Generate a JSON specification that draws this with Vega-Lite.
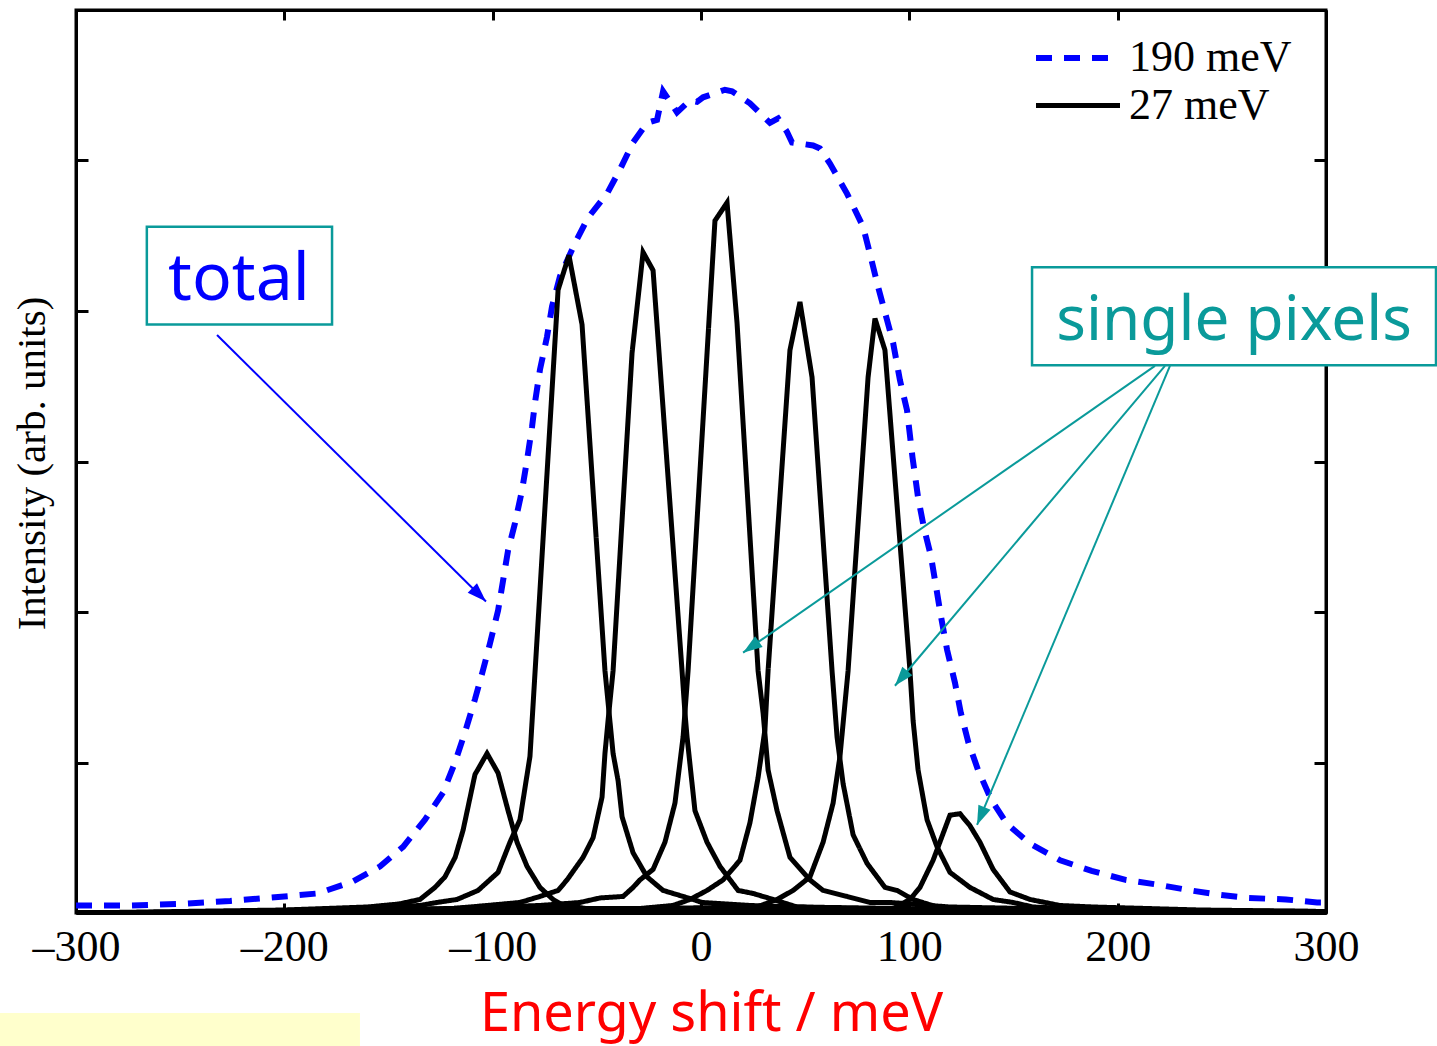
{
  "$schema": "https://vega.github.io/schema/vega-lite/v6.json",
  "width": 1250,
  "height": 903,
  "autosize": {"type": "none"},
  "padding": {"left": 76, "top": 10, "right": 111, "bottom": 133},
  "background": "white",
  "config": {"view": {"stroke": "black", "strokeWidth": 3}},
  "datasets": {
    "curves": [
      {"c":"T","res":"190 meV","e":-300,"v":0.05},{"c":"T","res":"190 meV","e":-274,"v":0.05},{"c":"T","res":"190 meV","e":-250,"v":0.06},{"c":"T","res":"190 meV","e":-226,"v":0.08},{"c":"T","res":"190 meV","e":-200,"v":0.11},{"c":"T","res":"190 meV","e":-184,"v":0.13},{"c":"T","res":"190 meV","e":-167,"v":0.21},{"c":"T","res":"190 meV","e":-154,"v":0.31},{"c":"T","res":"190 meV","e":-143,"v":0.44},{"c":"T","res":"190 meV","e":-132.5,"v":0.62},{"c":"T","res":"190 meV","e":-123.8,"v":0.8},{"c":"T","res":"190 meV","e":-118.1,"v":1.0},{"c":"T","res":"190 meV","e":-113.3,"v":1.2},{"c":"T","res":"190 meV","e":-108.5,"v":1.42},{"c":"T","res":"190 meV","e":-105.1,"v":1.59},{"c":"T","res":"190 meV","e":-101.3,"v":1.79},{"c":"T","res":"190 meV","e":-97.4,"v":2.01},{"c":"T","res":"190 meV","e":-95,"v":2.21},{"c":"T","res":"190 meV","e":-92.6,"v":2.41},{"c":"T","res":"190 meV","e":-89.3,"v":2.59},{"c":"T","res":"190 meV","e":-85.9,"v":2.81},{"c":"T","res":"190 meV","e":-83.5,"v":3.01},{"c":"T","res":"190 meV","e":-81.1,"v":3.23},{"c":"T","res":"190 meV","e":-79.7,"v":3.39},{"c":"T","res":"190 meV","e":-77.3,"v":3.61},{"c":"T","res":"190 meV","e":-73.9,"v":3.83},{"c":"T","res":"190 meV","e":-71.5,"v":4.03},{"c":"T","res":"190 meV","e":-67.7,"v":4.23},{"c":"T","res":"190 meV","e":-60.5,"v":4.45},{"c":"T","res":"190 meV","e":-54.2,"v":4.62},{"c":"T","res":"190 meV","e":-45.1,"v":4.78},{"c":"T","res":"190 meV","e":-38.9,"v":4.94},{"c":"T","res":"190 meV","e":-32.6,"v":5.12},{"c":"T","res":"190 meV","e":-25.9,"v":5.25},{"c":"T","res":"190 meV","e":-21.1,"v":5.27},{"c":"T","res":"190 meV","e":-18.2,"v":5.46},{"c":"T","res":"190 meV","e":-11.5,"v":5.32},{"c":"T","res":"190 meV","e":-5.3,"v":5.4},{"c":"T","res":"190 meV","e":-1.9,"v":5.39},{"c":"T","res":"190 meV","e":1,"v":5.42},{"c":"T","res":"190 meV","e":11.5,"v":5.47},{"c":"T","res":"190 meV","e":14.9,"v":5.46},{"c":"T","res":"190 meV","e":23.5,"v":5.38},{"c":"T","res":"190 meV","e":33.1,"v":5.25},{"c":"T","res":"190 meV","e":37,"v":5.28},{"c":"T","res":"190 meV","e":41.3,"v":5.19},{"c":"T","res":"190 meV","e":43.7,"v":5.12},{"c":"T","res":"190 meV","e":53.8,"v":5.1},{"c":"T","res":"190 meV","e":57.1,"v":5.08},{"c":"T","res":"190 meV","e":61.9,"v":4.98},{"c":"T","res":"190 meV","e":70.1,"v":4.78},{"c":"T","res":"190 meV","e":77.8,"v":4.56},{"c":"T","res":"190 meV","e":81.1,"v":4.38},{"c":"T","res":"190 meV","e":85,"v":4.16},{"c":"T","res":"190 meV","e":89.3,"v":3.94},{"c":"T","res":"190 meV","e":92.2,"v":3.79},{"c":"T","res":"190 meV","e":95.5,"v":3.54},{"c":"T","res":"190 meV","e":98.9,"v":3.34},{"c":"T","res":"190 meV","e":101.5,"v":3.03},{"c":"T","res":"190 meV","e":104.2,"v":2.76},{"c":"T","res":"190 meV","e":107,"v":2.56},{"c":"T","res":"190 meV","e":110.4,"v":2.37},{"c":"T","res":"190 meV","e":112.8,"v":2.17},{"c":"T","res":"190 meV","e":115.2,"v":1.97},{"c":"T","res":"190 meV","e":118.1,"v":1.75},{"c":"T","res":"190 meV","e":121.9,"v":1.53},{"c":"T","res":"190 meV","e":124.7,"v":1.33},{"c":"T","res":"190 meV","e":128.4,"v":1.13},{"c":"T","res":"190 meV","e":133,"v":0.95},{"c":"T","res":"190 meV","e":139.4,"v":0.75},{"c":"T","res":"190 meV","e":147,"v":0.59},{"c":"T","res":"190 meV","e":158,"v":0.46},{"c":"T","res":"190 meV","e":172.4,"v":0.35},{"c":"T","res":"190 meV","e":187.5,"v":0.28},{"c":"T","res":"190 meV","e":203.8,"v":0.22},{"c":"T","res":"190 meV","e":218.4,"v":0.19},{"c":"T","res":"190 meV","e":235,"v":0.15},{"c":"T","res":"190 meV","e":249.6,"v":0.12},{"c":"T","res":"190 meV","e":262.6,"v":0.1},{"c":"T","res":"190 meV","e":280.8,"v":0.09},{"c":"T","res":"190 meV","e":295.7,"v":0.07},{"c":"T","res":"190 meV","e":300,"v":0.07},

      {"c":"A","res":"27 meV","e":-300,"v":0},{"c":"A","res":"27 meV","e":-250,"v":0.01},{"c":"A","res":"27 meV","e":-200,"v":0.02},{"c":"A","res":"27 meV","e":-160,"v":0.04},{"c":"A","res":"27 meV","e":-145,"v":0.06},{"c":"A","res":"27 meV","e":-134.9,"v":0.09},{"c":"A","res":"27 meV","e":-127.7,"v":0.17},{"c":"A","res":"27 meV","e":-122.9,"v":0.24},{"c":"A","res":"27 meV","e":-118,"v":0.37},{"c":"A","res":"27 meV","e":-114.2,"v":0.55},{"c":"A","res":"27 meV","e":-108.5,"v":0.92},{"c":"A","res":"27 meV","e":-102.7,"v":1.06},{"c":"A","res":"27 meV","e":-97.4,"v":0.93},{"c":"A","res":"27 meV","e":-92.6,"v":0.68},{"c":"A","res":"27 meV","e":-88.3,"v":0.47},{"c":"A","res":"27 meV","e":-83.5,"v":0.31},{"c":"A","res":"27 meV","e":-77.3,"v":0.17},{"c":"A","res":"27 meV","e":-71,"v":0.09},{"c":"A","res":"27 meV","e":-66,"v":0.05},{"c":"A","res":"27 meV","e":-55,"v":0.03},{"c":"A","res":"27 meV","e":-30,"v":0.02},{"c":"A","res":"27 meV","e":0,"v":0.01},{"c":"A","res":"27 meV","e":100,"v":0.005},{"c":"A","res":"27 meV","e":300,"v":0},

      {"c":"B","res":"27 meV","e":-300,"v":0},{"c":"B","res":"27 meV","e":-216.5,"v":0.01},{"c":"B","res":"27 meV","e":-168.5,"v":0.03},{"c":"B","res":"27 meV","e":-134.9,"v":0.05},{"c":"B","res":"27 meV","e":-126.7,"v":0.07},{"c":"B","res":"27 meV","e":-117.1,"v":0.09},{"c":"B","res":"27 meV","e":-107,"v":0.15},{"c":"B","res":"27 meV","e":-97.4,"v":0.27},{"c":"B","res":"27 meV","e":-91.7,"v":0.47},{"c":"B","res":"27 meV","e":-86.9,"v":0.62},{"c":"B","res":"27 meV","e":-82.1,"v":1.04},{"c":"B","res":"27 meV","e":-68.6,"v":4.14},{"c":"B","res":"27 meV","e":-63.4,"v":4.37},{"c":"B","res":"27 meV","e":-57.1,"v":3.91},{"c":"B","res":"27 meV","e":-46.1,"v":1.61},{"c":"B","res":"27 meV","e":-42.2,"v":1.06},{"c":"B","res":"27 meV","e":-39.8,"v":0.88},{"c":"B","res":"27 meV","e":-37.9,"v":0.64},{"c":"B","res":"27 meV","e":-32.6,"v":0.4},{"c":"B","res":"27 meV","e":-25.9,"v":0.24},{"c":"B","res":"27 meV","e":-18.2,"v":0.15},{"c":"B","res":"27 meV","e":-3.8,"v":0.09},{"c":"B","res":"27 meV","e":0.5,"v":0.07},{"c":"B","res":"27 meV","e":23.5,"v":0.05},{"c":"B","res":"27 meV","e":71.5,"v":0.03},{"c":"B","res":"27 meV","e":143.5,"v":0.01},{"c":"B","res":"27 meV","e":300,"v":0.005},

      {"c":"C","res":"27 meV","e":-300,"v":0},{"c":"C","res":"27 meV","e":-216.5,"v":0.005},{"c":"C","res":"27 meV","e":-144.5,"v":0.02},{"c":"C","res":"27 meV","e":-119,"v":0.03},{"c":"C","res":"27 meV","e":-102.7,"v":0.05},{"c":"C","res":"27 meV","e":-86.9,"v":0.07},{"c":"C","res":"27 meV","e":-77.3,"v":0.11},{"c":"C","res":"27 meV","e":-68.6,"v":0.15},{"c":"C","res":"27 meV","e":-64.3,"v":0.22},{"c":"C","res":"27 meV","e":-56.6,"v":0.37},{"c":"C","res":"27 meV","e":-51.8,"v":0.5},{"c":"C","res":"27 meV","e":-47.5,"v":0.77},{"c":"C","res":"27 meV","e":-46.1,"v":1.06},{"c":"C","res":"27 meV","e":-44.6,"v":1.28},{"c":"C","res":"27 meV","e":-42.2,"v":1.61},{"c":"C","res":"27 meV","e":-33.1,"v":3.72},{"c":"C","res":"27 meV","e":-27.8,"v":4.39},{"c":"C","res":"27 meV","e":-23,"v":4.27},{"c":"C","res":"27 meV","e":-9.1,"v":1.61},{"c":"C","res":"27 meV","e":-7.7,"v":1.33},{"c":"C","res":"27 meV","e":-6.7,"v":1.17},{"c":"C","res":"27 meV","e":-2.9,"v":0.68},{"c":"C","res":"27 meV","e":2.9,"v":0.47},{"c":"C","res":"27 meV","e":9.1,"v":0.31},{"c":"C","res":"27 meV","e":17.8,"v":0.15},{"c":"C","res":"27 meV","e":25,"v":0.13},{"c":"C","res":"27 meV","e":34.6,"v":0.09},{"c":"C","res":"27 meV","e":46.1,"v":0.04},{"c":"C","res":"27 meV","e":95.5,"v":0.03},{"c":"C","res":"27 meV","e":191.5,"v":0.01},{"c":"C","res":"27 meV","e":300,"v":0.005},

      {"c":"D","res":"27 meV","e":-300,"v":0},{"c":"D","res":"27 meV","e":-192.5,"v":0.01},{"c":"D","res":"27 meV","e":-120.5,"v":0.03},{"c":"D","res":"27 meV","e":-77.3,"v":0.05},{"c":"D","res":"27 meV","e":-58.1,"v":0.07},{"c":"D","res":"27 meV","e":-48.5,"v":0.1},{"c":"D","res":"27 meV","e":-37.4,"v":0.11},{"c":"D","res":"27 meV","e":-32.6,"v":0.17},{"c":"D","res":"27 meV","e":-29.3,"v":0.22},{"c":"D","res":"27 meV","e":-23,"v":0.29},{"c":"D","res":"27 meV","e":-17.3,"v":0.47},{"c":"D","res":"27 meV","e":-12.5,"v":0.73},{"c":"D","res":"27 meV","e":-8.6,"v":1.17},{"c":"D","res":"27 meV","e":-6.2,"v":1.61},{"c":"D","res":"27 meV","e":6.7,"v":4.6},{"c":"D","res":"27 meV","e":12.5,"v":4.72},{"c":"D","res":"27 meV","e":17.3,"v":3.92},{"c":"D","res":"27 meV","e":27.4,"v":1.61},{"c":"D","res":"27 meV","e":29.8,"v":1.33},{"c":"D","res":"27 meV","e":32.2,"v":0.95},{"c":"D","res":"27 meV","e":36.5,"v":0.68},{"c":"D","res":"27 meV","e":42.7,"v":0.37},{"c":"D","res":"27 meV","e":52.3,"v":0.22},{"c":"D","res":"27 meV","e":58.6,"v":0.15},{"c":"D","res":"27 meV","e":70.1,"v":0.11},{"c":"D","res":"27 meV","e":81.1,"v":0.07},{"c":"D","res":"27 meV","e":90.7,"v":0.07},{"c":"D","res":"27 meV","e":119.5,"v":0.04},{"c":"D","res":"27 meV","e":191.5,"v":0.02},{"c":"D","res":"27 meV","e":300,"v":0.01},

      {"c":"E","res":"27 meV","e":-300,"v":0},{"c":"E","res":"27 meV","e":-144.5,"v":0.01},{"c":"E","res":"27 meV","e":-72.5,"v":0.03},{"c":"E","res":"27 meV","e":-29.3,"v":0.03},{"c":"E","res":"27 meV","e":-13.4,"v":0.05},{"c":"E","res":"27 meV","e":-5.3,"v":0.09},{"c":"E","res":"27 meV","e":2.9,"v":0.15},{"c":"E","res":"27 meV","e":10.6,"v":0.22},{"c":"E","res":"27 meV","e":18.7,"v":0.35},{"c":"E","res":"27 meV","e":23.5,"v":0.6},{"c":"E","res":"27 meV","e":27.4,"v":0.9},{"c":"E","res":"27 meV","e":30.7,"v":1.22},{"c":"E","res":"27 meV","e":32.2,"v":1.61},{"c":"E","res":"27 meV","e":42.7,"v":3.74},{"c":"E","res":"27 meV","e":47.5,"v":4.06},{"c":"E","res":"27 meV","e":53.3,"v":3.56},{"c":"E","res":"27 meV","e":62.9,"v":1.61},{"c":"E","res":"27 meV","e":65.3,"v":1.17},{"c":"E","res":"27 meV","e":68.2,"v":0.86},{"c":"E","res":"27 meV","e":73,"v":0.52},{"c":"E","res":"27 meV","e":79.7,"v":0.33},{"c":"E","res":"27 meV","e":88.3,"v":0.17},{"c":"E","res":"27 meV","e":94.1,"v":0.15},{"c":"E","res":"27 meV","e":101.8,"v":0.09},{"c":"E","res":"27 meV","e":113.3,"v":0.04},{"c":"E","res":"27 meV","e":138.7,"v":0.02},{"c":"E","res":"27 meV","e":215.5,"v":0.01},{"c":"E","res":"27 meV","e":300,"v":0.005},

      {"c":"F","res":"27 meV","e":-300,"v":0},{"c":"F","res":"27 meV","e":-96.5,"v":0.01},{"c":"F","res":"27 meV","e":-24.5,"v":0.03},{"c":"F","res":"27 meV","e":26.9,"v":0.04},{"c":"F","res":"27 meV","e":36.5,"v":0.09},{"c":"F","res":"27 meV","e":44.2,"v":0.15},{"c":"F","res":"27 meV","e":52.3,"v":0.24},{"c":"F","res":"27 meV","e":58.6,"v":0.47},{"c":"F","res":"27 meV","e":63.4,"v":0.73},{"c":"F","res":"27 meV","e":66.7,"v":1.04},{"c":"F","res":"27 meV","e":70.6,"v":1.61},{"c":"F","res":"27 meV","e":80.2,"v":3.56},{"c":"F","res":"27 meV","e":83.5,"v":3.95},{"c":"F","res":"27 meV","e":88.3,"v":3.74},{"c":"F","res":"27 meV","e":100.3,"v":1.61},{"c":"F","res":"27 meV","e":101.8,"v":1.28},{"c":"F","res":"27 meV","e":104.2,"v":0.95},{"c":"F","res":"27 meV","e":108.5,"v":0.62},{"c":"F","res":"27 meV","e":113.3,"v":0.44},{"c":"F","res":"27 meV","e":119.5,"v":0.27},{"c":"F","res":"27 meV","e":129.1,"v":0.17},{"c":"F","res":"27 meV","e":140.2,"v":0.09},{"c":"F","res":"27 meV","e":149.8,"v":0.07},{"c":"F","res":"27 meV","e":159.4,"v":0.04},{"c":"F","res":"27 meV","e":191.5,"v":0.02},{"c":"F","res":"27 meV","e":300,"v":0.005},

      {"c":"G","res":"27 meV","e":-300,"v":0},{"c":"G","res":"27 meV","e":-48.5,"v":0.005},{"c":"G","res":"27 meV","e":47.5,"v":0.02},{"c":"G","res":"27 meV","e":92.2,"v":0.03},{"c":"G","res":"27 meV","e":100.3,"v":0.09},{"c":"G","res":"27 meV","e":105.1,"v":0.17},{"c":"G","res":"27 meV","e":111.4,"v":0.35},{"c":"G","res":"27 meV","e":119.5,"v":0.65},{"c":"G","res":"27 meV","e":124.3,"v":0.66},{"c":"G","res":"27 meV","e":129.1,"v":0.58},{"c":"G","res":"27 meV","e":133.9,"v":0.47},{"c":"G","res":"27 meV","e":140.2,"v":0.29},{"c":"G","res":"27 meV","e":148.3,"v":0.14},{"c":"G","res":"27 meV","e":157.9,"v":0.09},{"c":"G","res":"27 meV","e":172.3,"v":0.05},{"c":"G","res":"27 meV","e":188.2,"v":0.04},{"c":"G","res":"27 meV","e":239.5,"v":0.02},{"c":"G","res":"27 meV","e":300,"v":0.01}
    ],
    "boxes": [
      {"name":"total","e":-266,"e2":-177.1,"v":4.56,"v2":3.91},
      {"name":"single pixels","e":158.9,"e2":352.8,"v":4.29,"v2":3.64}
    ],
    "note": [
      {"e":-336.5,"e2":-163.7,"v":-0.664,"v2":-0.884}
    ],
    "bluearrow": [
      {"e":-232.3,"v":3.84,"e2":-103.2,"v2":2.07,"dir":134.7}
    ],
    "tealarrows": [
      {"e":217.9,"v":3.635,"e2":20.2,"v2":1.73,"dir":235.2},
      {"e":222.7,"v":3.635,"e2":93.1,"v2":1.51,"dir":220.2},
      {"e":225.1,"v":3.635,"e2":132.5,"v2":0.585,"dir":202.8}
    ],
    "label_total": [{"t":"total","e":-221.8,"v":4.07}],
    "label_single": [{"t":"single pixels","e":255.9,"v":3.81}]
  },
  "layer": [
    {
      "data": {"name": "note"},
      "mark": {"type": "rect", "fill": "#FFFFCC", "stroke": null},
      "encoding": {
        "x": {"field": "e", "type": "quantitative", "axis": null},
        "x2": {"field": "e2"},
        "y": {"field": "v", "type": "quantitative", "axis": null},
        "y2": {"field": "v2"}
      }
    },
    {
      "data": {"name": "curves"},
      "mark": {"type": "line", "strokeCap": "butt", "strokeJoin": "miter", "clip": true},
      "encoding": {
        "x": {
          "field": "e", "type": "quantitative",
          "scale": {"domain": [-300, 300], "nice": false, "zero": false},
          "axis": {
            "values": [-300, -200, -100, 0, 100, 200, 300],
            "labelExpr": "datum.value < 0 ? '–' + abs(datum.value) : datum.label",
            "labelFont": "Liberation Serif", "labelFontSize": 44, "labelColor": "black",
            "labelPadding": 22, "labelFlush": false, "labelOverlap": false,
            "tickSize": -10, "tickWidth": 3, "tickColor": "black",
            "domainColor": "black", "domainWidth": 3, "grid": false,
            "title": "Energy shift / meV", "titleFont": "Noto Sans", "titleFontSize": 54,
            "titleColor": "#FF0000", "titleFontWeight": "normal",
            "titleX": 635, "titleY": 117, "titleAlign": "center", "titleBaseline": "alphabetic",
            "encode": {"labels": {"update": {"dx": {"signal": "datum.value < 0 ? -12 : 0"}}}}
          }
        },
        "y": {
          "field": "v", "type": "quantitative",
          "scale": {"domain": [0, 6], "nice": false},
          "axis": {
            "values": [0, 1, 2, 3, 4, 5, 6], "labels": false,
            "tickSize": -12, "tickWidth": 3, "tickColor": "black",
            "domainColor": "black", "domainWidth": 3, "grid": false,
            "title": "Intensity (arb. units)", "titleFont": "Liberation Serif", "titleFontSize": 41,
            "titleColor": "black", "titleFontWeight": "normal",
            "titleX": -32, "titleY": 453, "titleAngle": -90, "titleAlign": "center", "titleBaseline": "alphabetic"
          }
        },
        "color": {
          "field": "res", "type": "nominal",
          "scale": {"domain": ["190 meV", "27 meV"], "range": ["#0000FF", "#000000"]},
          "legend": {"title": null, "orient": "none", "legendX": 978, "legendY": 24, "direction": "vertical",
            "labelFont": "Liberation Serif", "labelFontSize": 44, "labelColor": "black", "labelOffset": 27, "labelLimit": 500,
            "symbolType": "M-2,0L2,0", "symbolSize": 1764, "symbolStrokeWidth": 5.5, "rowPadding": 2, "padding": 0}
        },
        "strokeDash": {
          "field": "res", "type": "nominal",
          "scale": {"domain": ["190 meV", "27 meV"], "range": [[16, 12], [1, 0]]},
          "legend": {"title": null, "orient": "none", "legendX": 978, "legendY": 24, "direction": "vertical",
            "labelFont": "Liberation Serif", "labelFontSize": 44, "labelColor": "black", "labelOffset": 27, "labelLimit": 500,
            "symbolType": "M-2,0L2,0", "symbolSize": 1764, "symbolStrokeWidth": 5.5, "rowPadding": 2, "padding": 0}
        },
        "strokeWidth": {
          "field": "res", "type": "nominal",
          "scale": {"domain": ["190 meV", "27 meV"], "range": [6, 5]},
          "legend": null
        },
        "detail": {"field": "c", "type": "nominal"}
      }
    },
    {
      "data": {"name": "curves"},
      "mark": {"type": "point", "opacity": 0, "size": 1},
      "encoding": {
        "x": {"field": "e", "type": "quantitative",
          "axis": {"orient": "top", "values": [-300, -200, -100, 0, 100, 200, 300], "labels": false, "title": null,
            "tickSize": -10, "tickWidth": 3, "tickColor": "black", "domainColor": "black", "domainWidth": 3, "grid": false}},
        "y": {"field": "v", "type": "quantitative",
          "axis": {"orient": "right", "values": [0, 1, 2, 3, 4, 5, 6], "labels": false, "title": null,
            "tickSize": -12, "tickWidth": 3, "tickColor": "black", "domainColor": "black", "domainWidth": 3, "grid": false}}
      }
    },
    {
      "data": {"name": "boxes"},
      "mark": {"type": "rect", "fill": "white", "stroke": "#0A9A9A", "strokeWidth": 2.5},
      "encoding": {
        "x": {"field": "e", "type": "quantitative", "axis": null},
        "x2": {"field": "e2"},
        "y": {"field": "v", "type": "quantitative", "axis": null},
        "y2": {"field": "v2"}
      }
    },
    {
      "data": {"name": "label_total"},
      "mark": {"type": "text", "font": "Noto Sans", "fontSize": 66, "color": "#0000FF", "align": "center", "baseline": "alphabetic"},
      "encoding": {
        "x": {"field": "e", "type": "quantitative", "axis": null},
        "y": {"field": "v", "type": "quantitative", "axis": null},
        "text": {"field": "t"}
      }
    },
    {
      "data": {"name": "label_single"},
      "mark": {"type": "text", "font": "Noto Sans", "fontSize": 62, "color": "#0A9A9A", "align": "center", "baseline": "alphabetic"},
      "encoding": {
        "x": {"field": "e", "type": "quantitative", "axis": null},
        "y": {"field": "v", "type": "quantitative", "axis": null},
        "text": {"field": "t"}
      }
    },
    {
      "data": {"name": "bluearrow"},
      "mark": {"type": "rule", "color": "#0000FF", "strokeWidth": 2},
      "encoding": {
        "x": {"field": "e", "type": "quantitative", "axis": null},
        "y": {"field": "v", "type": "quantitative", "axis": null},
        "x2": {"field": "e2"},
        "y2": {"field": "v2"}
      }
    },
    {
      "data": {"name": "bluearrow"},
      "mark": {"type": "point", "shape": "M0,0L0.55,1.6L-0.55,1.6Z", "filled": true, "color": "#0000FF", "opacity": 1, "size": 576},
      "encoding": {
        "x": {"field": "e2", "type": "quantitative", "axis": null},
        "y": {"field": "v2", "type": "quantitative", "axis": null},
        "angle": {"field": "dir", "type": "quantitative", "scale": {"domain": [0, 360], "range": [0, 360]}}
      }
    },
    {
      "data": {"name": "tealarrows"},
      "mark": {"type": "rule", "color": "#0A9A9A", "strokeWidth": 2},
      "encoding": {
        "x": {"field": "e", "type": "quantitative", "axis": null},
        "y": {"field": "v", "type": "quantitative", "axis": null},
        "x2": {"field": "e2"},
        "y2": {"field": "v2"}
      }
    },
    {
      "data": {"name": "tealarrows"},
      "mark": {"type": "point", "shape": "M0,0L0.55,1.6L-0.55,1.6Z", "filled": true, "color": "#0A9A9A", "opacity": 1, "size": 576},
      "encoding": {
        "x": {"field": "e2", "type": "quantitative", "axis": null},
        "y": {"field": "v2", "type": "quantitative", "axis": null},
        "angle": {"field": "dir", "type": "quantitative", "scale": {"domain": [0, 360], "range": [0, 360]}}
      }
    }
  ],
  "resolve": {"axis": {"x": "independent", "y": "independent"}}
}
